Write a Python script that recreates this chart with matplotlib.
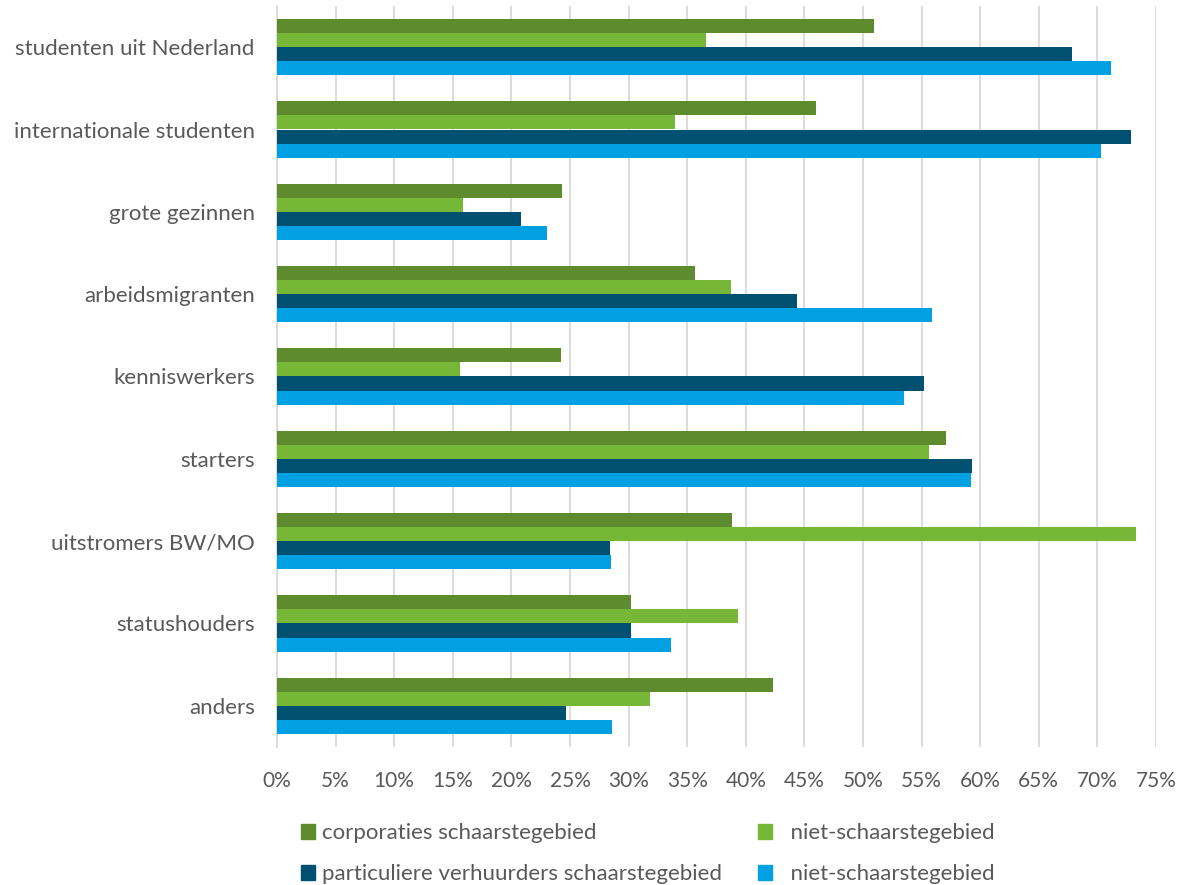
import numpy as np
import matplotlib
matplotlib.use("Agg")
import matplotlib.pyplot as plt
from matplotlib.patches import Patch
from matplotlib.ticker import FuncFormatter, MultipleLocator

plt.rcParams['font.family'] = ['Lato', 'DejaVu Sans']

categories = ["studenten uit Nederland", "internationale studenten", "grote gezinnen",
              "arbeidsmigranten", "kenniswerkers", "starters", "uitstromers BW/MO",
              "statushouders", "anders"]

corp_schaars = [50.9, 46.0, 24.3, 35.7, 24.2, 57.1, 38.8, 30.2, 42.3]
corp_niet = [36.6, 34.0, 15.9, 38.7, 15.6, 55.6, 73.3, 39.3, 31.8]
part_schaars = [67.8, 72.9, 20.8, 44.4, 55.2, 59.3, 28.4, 30.2, 24.7]
part_niet = [71.2, 70.3, 23.0, 55.9, 53.5, 59.2, 28.5, 33.6, 28.6]

series = [corp_schaars, corp_niet, part_schaars, part_niet]
labels = ["corporaties schaarstegebied", "niet-schaarstegebied",
          "particuliere verhuurders schaarstegebied", "niet-schaarstegebied"]
colors = ["#5F8B2F", "#76B737", "#005072", "#00A0E2"]

text_col = "#595959"

fig = plt.figure(figsize=(11.82, 8.85), dpi=100)
ax = fig.add_axes([277/1182, 1 - 747/885, (1156-277)/1182, (747-6)/885])

y = np.arange(len(categories))
h = 0.172
for i, (vals, col) in enumerate(zip(series, colors)):
    ax.barh(y + (i - 1.5) * h, vals, height=h, color=col, zorder=3)

ax.set_xlim(0, 75)
ax.set_ylim(len(categories) - 0.5, -0.5)
ax.xaxis.set_major_locator(MultipleLocator(5))
ax.xaxis.set_major_formatter(FuncFormatter(lambda v, p: f"{int(round(v))}%"))
ax.set_yticks(y)
ax.set_yticklabels(categories)
ax.grid(axis='x', color="#D9D9D9", linewidth=1.3, zorder=0)
for s in ['top', 'right', 'bottom']:
    ax.spines[s].set_visible(False)
ax.spines['left'].set_color("#D9D9D9")
ax.spines['left'].set_linewidth(1.3)
ax.tick_params(axis='both', length=0, labelcolor=text_col)
ax.tick_params(axis='x', pad=17, labelsize=15)
ax.tick_params(axis='y', pad=16, labelsize=16)

handles = [Patch(color=colors[0]), Patch(color=colors[2]), Patch(color=colors[1]), Patch(color=colors[3])]
leg_labels = [labels[0], labels[2], "  " + labels[1], "  " + labels[3]]
leg = fig.legend(handles, leg_labels, ncol=2, loc='upper left', bbox_to_anchor=(281/1182, 1 - 803/885),
                 frameon=False, fontsize=16, handlelength=0.65, handleheight=0.65, handletextpad=0.3,
                 columnspacing=1.6, labelspacing=0.95, labelcolor=text_col)

fig.savefig("out.png", dpi=100)
